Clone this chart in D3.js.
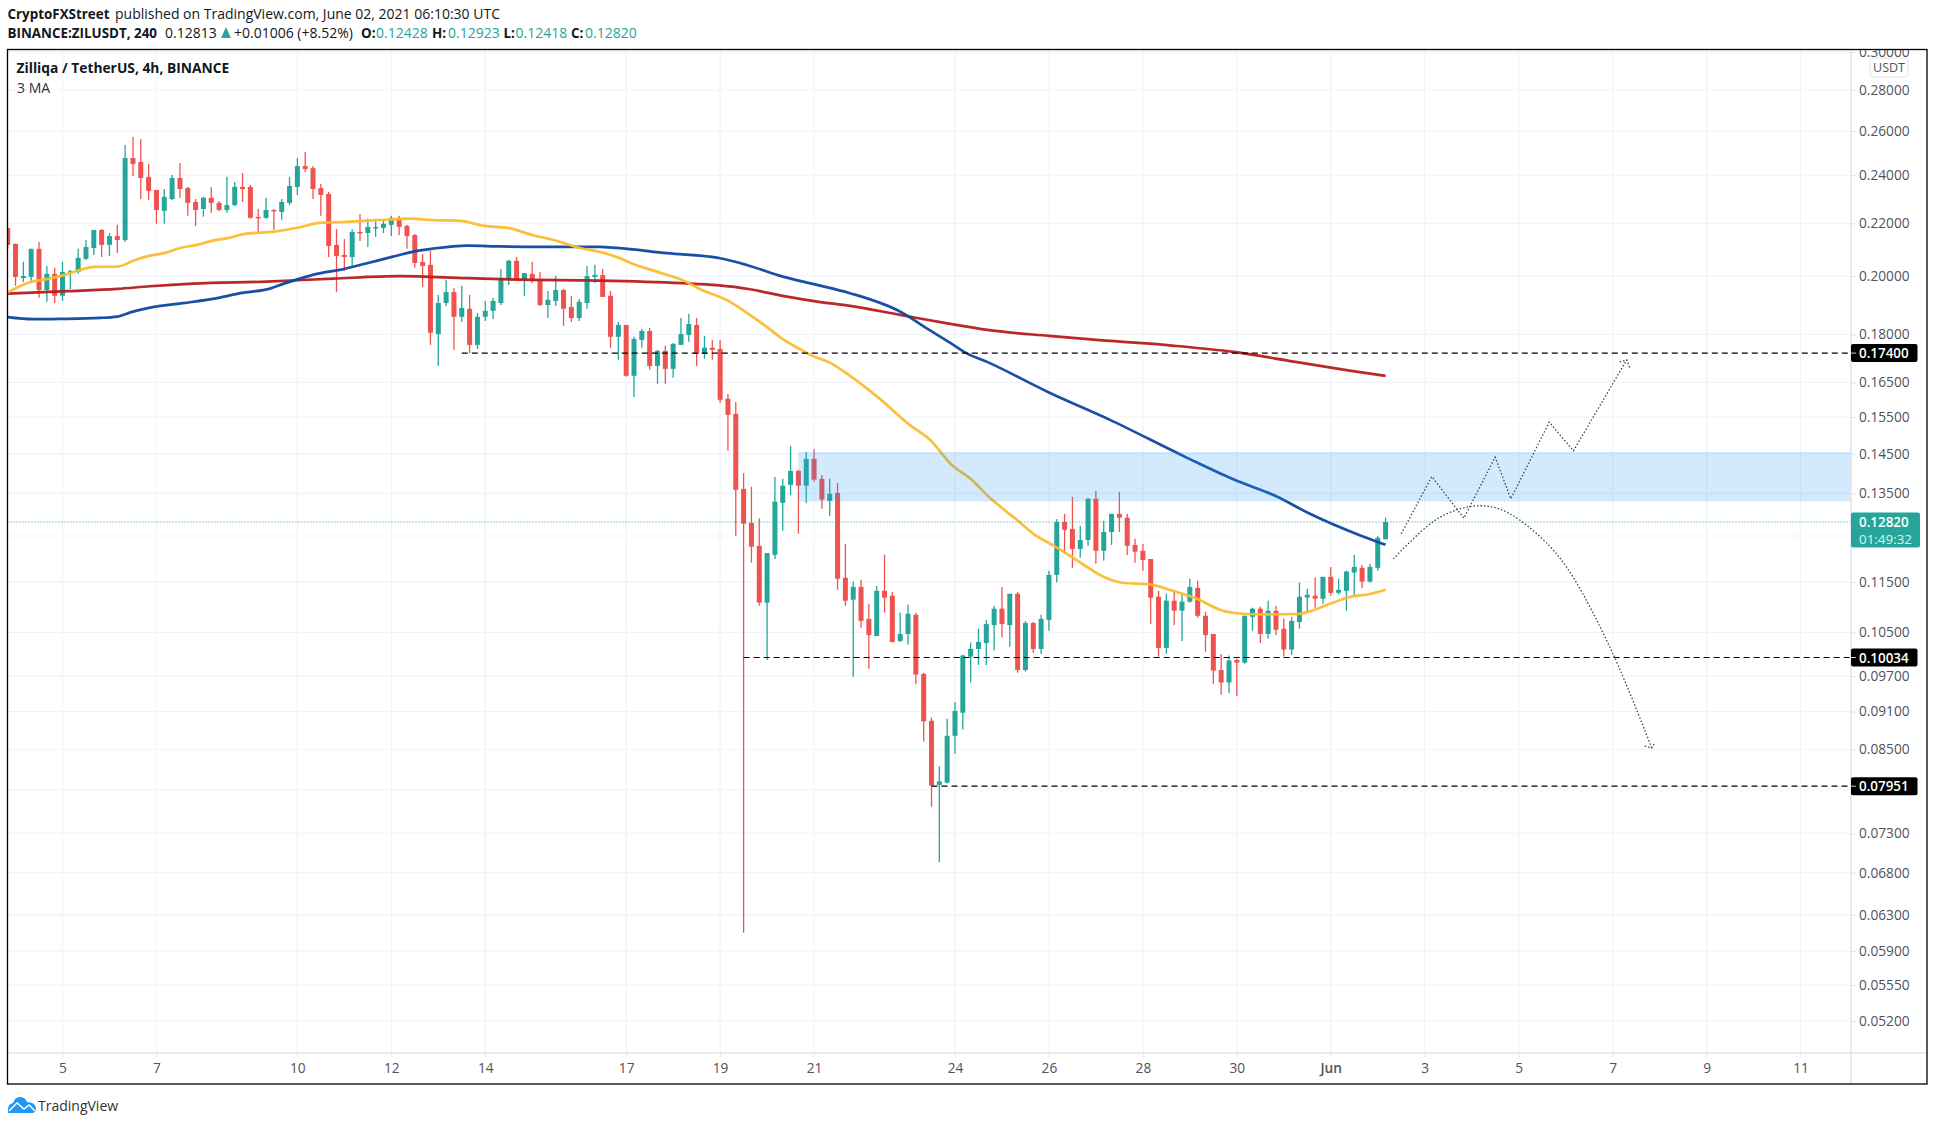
<!DOCTYPE html>
<html>
<head>
<meta charset="utf-8">
<script src="https://cdnjs.cloudflare.com/ajax/libs/d3/7.8.5/d3.min.js" charset="utf-8"></script>
<style>
body { margin: 0; background: #fff; }
svg { display: block; }
text { font-family: "Open Sans", sans-serif; }
.axis-label text { font-size: 13.7px; fill: #50535e; }
</style>
</head>
<body>
<svg id="chart" width="1935" height="1126"></svg>
<script>
// 4h candles from May 3 20:00 UTC, [open, high, low, close]
var candles = [
[.2182,.2182,.2101,.2116],[.2120,.2120,.1965,.1997],[.1993,.2052,.1979,.2000],[.1997,.2101,.1979,.2101],
[.2101,.2127,.1923,.1950],[.1950,.2037,.1909,.2008],[.2008,.2030,.1905,.1930],[.1930,.2052,.1912,.2015],
[.2011,.2022,.1954,.2018],[.2015,.2101,.2008,.2067],[.2063,.2135,.2059,.2108],[.2104,.2174,.2078,.2174],
[.2174,.2178,.2070,.2116],[.2116,.2162,.2074,.2150],[.2150,.2194,.2085,.2135],[.2135,.2535,.2127,.2476],
[.2476,.2572,.2397,.2449],[.2458,.2563,.2299,.2388],[.2393,.2449,.2295,.2333],[.2337,.2337,.2198,.2254],
[.2250,.2341,.2198,.2308],[.2299,.2401,.2295,.2388],[.2388,.2454,.2304,.2341],[.2345,.2350,.2230,.2283],
[.2287,.2299,.2190,.2254],[.2258,.2308,.2226,.2304],[.2304,.2350,.2242,.2283],[.2283,.2291,.2250,.2254],
[.2254,.2393,.2242,.2274],[.2274,.2371,.2270,.2350],[.2350,.2410,.2287,.2341],[.2350,.2358,.2218,.2222],
[.2226,.2258,.2166,.2222],[.2222,.2304,.2218,.2254],[.2254,.2258,.2174,.2250],[.2246,.2299,.2214,.2287],
[.2283,.2393,.2274,.2354],[.2350,.2476,.2316,.2440],[.2440,.2503,.2414,.2427],[.2431,.2440,.2299,.2341],
[.2345,.2362,.2230,.2316],[.2320,.2329,.2070,.2112],[.2116,.2178,.1943,.2074],[.2078,.2139,.2019,.2070],
[.2070,.2178,.2037,.2166],[.2166,.2238,.2131,.2162],[.2162,.2218,.2108,.2186],[.2182,.2218,.2147,.2186],
[.2182,.2214,.2162,.2198],[.2194,.2230,.2150,.2222],[.2222,.2230,.2154,.2186],[.2190,.2194,.2101,.2150],
[.2154,.2158,.2030,.2048],[.2052,.2081,.1961,.2037],[.2041,.2093,.1766,.1805],[.1801,.1933,.1700,.1905],
[.1905,.1986,.1895,.1943],[.1943,.1957,.1750,.1858],[.1858,.1965,.1841,.1888],[.1885,.1933,.1740,.1766],
[.1766,.1871,.1753,.1858],[.1858,.1912,.1844,.1878],[.1878,.1923,.1851,.1912],[.1905,.2026,.1898,.1993],
[.1986,.2059,.1968,.2056],[.2056,.2070,.1983,.1986],[.1986,.2011,.1930,.2011],[.2008,.2052,.1975,.1983],
[.1986,.2015,.1895,.1898],[.1898,.1947,.1854,.1916],[.1912,.2000,.1895,.1950],[.1950,.1954,.1828,.1885],
[.1891,.1930,.1841,.1854],[.1854,.1919,.1844,.1909],[.1905,.2037,.1885,.2000],[.1997,.2041,.1975,.2004],
[.2004,.2026,.1926,.1926],[.1930,.1947,.1757,.1792],[.1792,.1841,.1719,.1831],[.1831,.1831,.1667,.1670],
[.1670,.1792,.1607,.1785],[.1782,.1818,.1757,.1811],[.1811,.1821,.1688,.1700],[.1700,.1750,.1646,.1747],
[.1747,.1763,.1646,.1691],[.1691,.1772,.1664,.1769],[.1766,.1854,.1766,.1801],[.1798,.1868,.1776,.1834],
[.1831,.1854,.1700,.1737],[.1737,.1795,.1722,.1757],[.1757,.1782,.1719,.1750],[.1753,.1782,.1590,.1599],
[.1602,.1616,.1458,.1556],[.1559,.1593,.1250,.1359],[.1361,.1401,.0610,.1278],[.1280,.1366,.1191,.1226],
[.1228,.1290,.1102,.1108],[.1108,.1212,.0999,.1212],[.1208,.1391,.1199,.1330],[.1327,.1386,.1262,.1369],
[.1371,.1471,.1346,.1406],[.1406,.1409,.1255,.1369],[.1369,.1455,.1327,.1437],[.1437,.1463,.1379,.1384],
[.1386,.1396,.1313,.1335],[.1332,.1386,.1296,.1349],[.1351,.1376,.1134,.1157],[.1159,.1232,.1102,.1112],
[.1114,.1151,.0969,.1140],[.1140,.1155,.1059,.1072],[.1076,.1106,.0983,.1045],[.1043,.1142,.1043,.1132],
[.1132,.1208,.1088,.1118],[.1122,.1130,.1031,.1032],[.1034,.1088,.1032,.1047],[.1047,.1104,.1027,.1086],
[.1084,.1088,.0956,.0973],[.0974,.0976,.0862,.0894],[.0895,.0900,.0766,.0796],[.0797,.0824,.0693,.0802],
[.0800,.0898,.0799,.0871],[.0871,.0926,.0843,.0911],[.0908,.1008,.0881,.1007],[.1005,.1031,.0959,.1019],
[.1019,.1057,.0990,.1032],[.1030,.1074,.0990,.1066],[.1064,.1102,.1016,.1096],[.1096,.1140,.1041,.1066],
[.1064,.1126,.1023,.1126],[.1126,.1130,.0976,.0981],[.0981,.1072,.0978,.1068],[.1068,.1070,.1012,.1019],
[.1019,.1084,.1010,.1076],[.1074,.1174,.1053,.1165],[.1165,.1289,.1149,.1282],[.1282,.1301,.1217,.1264],
[.1266,.1342,.1180,.1221],[.1221,.1273,.1202,.1241],[.1241,.1339,.1228,.1337],[.1337,.1356,.1189,.1217],
[.1217,.1285,.1195,.1259],[.1259,.1301,.1230,.1301],[.1301,.1354,.1259,.1292],[.1292,.1301,.1208,.1228],
[.1230,.1244,.1191,.1215],[.1217,.1232,.1174,.1197],[.1199,.1199,.1066,.1118],[.1120,.1132,.1005,.1021],
[.1021,.1126,.1010,.1112],[.1112,.1130,.1064,.1092],[.1092,.1126,.1034,.1110],[.1110,.1157,.1108,.1140],
[.1138,.1153,.1078,.1082],[.1082,.1090,.1014,.1045],[.1047,.1047,.0957,.0980],[.0981,.1010,.0938,.0959],
[.0959,.1007,.0941,.0998],[.0999,.1001,.0936,.0994],[.0994,.1082,.0992,.1082],[.1080,.1098,.1053,.1096],
[.1096,.1100,.1030,.1047],[.1047,.1112,.1038,.1092],[.1092,.1102,.1045,.1055],[.1057,.1076,.1005,.1018],
[.1018,.1080,.1008,.1072],[.1070,.1149,.1057,.1120],[.1118,.1136,.1090,.1124],[.1122,.1159,.1098,.1116],
[.1116,.1161,.1106,.1161],[.1161,.1182,.1122,.1128],[.1128,.1157,.1124,.1134],[.1132,.1174,.1092,.1172],
[.1170,.1208,.1122,.1182],[.1180,.1186,.1138,.1151],[.1151,.1189,.1149,.1182],[.1180,.1250,.1174,.1246],
[.12428,.12923,.12418,.12820]
];

// moving averages, [bar index, price]
var maOrange = [[0,.19418],[2.8,.19779],[5.1,.19897],[7.3,.20042],[9.2,.20223],[11.1,.20333],[14,.20345],[16.3,.20592],
[18.2,.20751],[20.1,.20855],[22,.21043],[24.2,.21159],[26.2,.21323],[28.4,.2144],[30.3,.21584],[34.1,.21674],
[37.3,.21847],[40.1,.22029],[42.4,.22045],[45.9,.22108],[49.4,.22165],[51.8,.2219],[53.9,.22136],[57.8,.22096],
[60.9,.21898],[63.9,.21819],[67.1,.21533],[70.2,.21312],[72.7,.21071],[76,.20866],[78,.20678],[79.9,.20444],
[82.9,.20161],[86.8,.19779],[88.4,.1954],[92,.19132],[94.8,.18644],[97,.18234],[99,.17843],[101.2,.17523],
[102.8,.17312],[105,.17103],[107.6,.16698],[111.4,.16017],[115.2,.15283],[117.8,.14873],[120.7,.1419],[122.9,.13879],
[125.5,.13386],[128.9,.12871],[131.5,.12489],[133.5,.12296],[137,.11915],[139.9,.11617],[142.4,.11486],[145.9,.11451],
[148.4,.11341],[151.9,.11158],[155.1,.10925],[157.8,.1086],[160.3,.10847],[164.7,.10855],[166.7,.10925],[168.9,.11058],
[171.4,.11193],[174,.11254],[176,.11341]];

var maBlue = [[0,.18567],[3.2,.185],[6.7,.1851],[11.8,.18543],[14,.18587],[16,.18756],[18.2,.18892],[22.4,.19043],
[27.1,.19236],[29.7,.1939],[33.5,.19551],[35.2,.19719],[37.3,.19908],[39.5,.20078],[42.4,.20223],[45.9,.2047],
[49.2,.20714],[52.3,.2093],[54.3,.21018],[58.7,.21132],[62.9,.211],[68.9,.21083],[75.6,.21083],[77.8,.21044],
[84.2,.20844],[91,.20655],[94.4,.20406],[99,.1998],[103.4,.19683],[107.6,.19389],[114.3,.18712],[117.1,.18245],
[120.4,.17725],[122.4,.17407],[125.1,.17125],[133,.16204],[140.8,.15421],[150.4,.14423],[156.7,.13836],[162.1,.13425],
[166.2,.13023],[173.1,.12489],[176,.12302]];

var maRed = [[0,.19376],[7.6,.1946],[14,.19541],[18.2,.19636],[23.7,.19729],[33.1,.19801],[41.6,.19908],[50.1,.19995],
[58.7,.19923],[67.1,.19861],[75.6,.19836],[86.2,.19743],[90.6,.19672],[94.8,.1953],[99,.19296],[103.4,.19097],
[107.6,.1895],[114,.18644],[120.4,.18343],[125.1,.18145],[133,.1795],[140.8,.17788],[148.7,.17638],[156.6,.17438],
[164.5,.17125],[171.4,.16858],[176,.16698]];

// hand drawn projections
var pathUp = [[178,.1255],[181.9,.13917],[186,.1291],[190,.14415],[192,.13369],[196.9,.15357],[200,.14581],[206.8,.17187]];
var arrowUp = [[205.9,.17125],[206.8,.17187],[207.2,.16948]];
var pathDown = [[177,.11995],[182.1,.12832],[185.5,.1313],[188.4,.13202],[190.6,.13123],[193.1,.12871],[197,.12265],[199.9,.11617],[205,.10116],[210,.08519]];
var arrowDown = [[209.1,.0855],[210,.08519],[210.4,.086]];

var levels = [{price:.174, from:58, label:'0.17400'},{price:.10034, from:94, label:'0.10034'},{price:.07951, from:118, label:'0.07951'}];
var priceTicks = [.30,.28,.26,.24,.22,.20,.18,.165,.155,.145,.135,.115,.105,.097,.091,.085,.073,.068,.063,.059,.0555,.052];
var gridOnly = [.125,.079];
var dateTicks = [[2021,4,5],[2021,4,7],[2021,4,10],[2021,4,12],[2021,4,14],[2021,4,17],[2021,4,19],[2021,4,21],[2021,4,24],
[2021,4,26],[2021,4,28],[2021,4,30],[2021,5,1],[2021,5,3],[2021,5,5],[2021,5,7],[2021,5,9],[2021,5,11]].map(function(d){ return new Date(Date.UTC(d[0],d[1],d[2])); });

var L = 7.5, T = 49.5, R = 1927, B = 1084, plotR = 1851, plotB = 1053;
var GREEN = '#26a69a', RED = '#ef5350', GRID = '#f0f3fa', AXIS = '#e0e3eb';

var t0 = Date.UTC(2021,4,3,20);
function barDate(k) { return new Date(t0 + k*4*3600*1000); }

var x = d3.scaleUtc().domain([new Date(Date.UTC(2021,4,5)), new Date(Date.UTC(2021,5,11))]).range([62.5,1800.5]);
var y = d3.scaleLog().domain([.28,.052]).range([90,1021]);
function bx(k) { return x(barDate(k)); }

var svg = d3.select('#chart');
var defs = svg.append('defs');
defs.append('clipPath').attr('id','plot').append('rect').attr('x',L).attr('y',T).attr('width',plotR-L).attr('height',plotB-T);
defs.append('clipPath').attr('id','pax').append('rect').attr('x',plotR).attr('y',T).attr('width',R-plotR).attr('height',B-T);

// grid
var grid = svg.append('g').attr('clip-path','url(#plot)');
grid.selectAll('.h').data(priceTicks.concat(gridOnly)).enter().append('line')
  .attr('x1',L).attr('x2',plotR).attr('y1',function(d){return y(d);}).attr('y2',function(d){return y(d);})
  .attr('stroke',GRID).attr('stroke-width',1.2);
grid.selectAll('.v').data(dateTicks).enter().append('line')
  .attr('x1',function(d){return x(d);}).attr('x2',function(d){return x(d);}).attr('y1',T).attr('y2',plotB)
  .attr('stroke',GRID).attr('stroke-width',1.2);

var plot = svg.append('g').attr('clip-path','url(#plot)');

// candles
var bars = plot.selectAll('g.bar').data(candles).enter().append('g').attr('class','bar');
function col(d) { return d[3] >= d[0] ? GREEN : RED; }
bars.append('line')
  .attr('x1',function(d,i){return bx(i);}).attr('x2',function(d,i){return bx(i);})
  .attr('y1',function(d){return y(d[1]);}).attr('y2',function(d){return y(d[2]);})
  .attr('stroke',col).attr('stroke-width',1.3);
bars.append('rect')
  .attr('x',function(d,i){return bx(i)-2.5;}).attr('width',5)
  .attr('y',function(d){return y(Math.max(d[0],d[3]));})
  .attr('height',function(d){return Math.max(1.5,Math.abs(y(d[0])-y(d[3])));})
  .attr('fill',col);

// moving averages
var maLine = d3.line().x(function(d){return bx(d[0]);}).y(function(d){return y(d[1]);}).curve(d3.curveMonotoneX);
[[maRed,'#b71c1c'],[maBlue,'#0d47a1'],[maOrange,'#fbbc2e']].forEach(function(m){
  plot.append('path').attr('d',maLine(m[0])).attr('fill','none').attr('stroke',m[1]).attr('stroke-width',2.7).attr('stroke-opacity',.95);
});

// resistance box
plot.append('rect').attr('x',bx(101)).attr('width',plotR-bx(101))
  .attr('y',y(.1455)).attr('height',y(.13305)-y(.1455))
  .attr('fill','#2196f3').attr('fill-opacity',.2);

// last price line
plot.append('line').attr('x1',L).attr('x2',plotR).attr('y1',y(.1282)).attr('y2',y(.1282))
  .attr('stroke',GREEN).attr('stroke-width',1).attr('stroke-dasharray','1 2');

// levels
plot.selectAll('.level').data(levels).enter().append('line')
  .attr('x1',function(d){return bx(d.from);}).attr('x2',plotR)
  .attr('y1',function(d){return y(d.price);}).attr('y2',function(d){return y(d.price);})
  .attr('stroke','#000').attr('stroke-width',1.2).attr('stroke-dasharray','6 4');

// projections
var straight = d3.line().x(function(d){return bx(d[0]);}).y(function(d){return y(d[1]);});
var curved = d3.line().x(function(d){return bx(d[0]);}).y(function(d){return y(d[1]);}).curve(d3.curveCatmullRom);
[[pathUp,straight],[arrowUp,straight],[pathDown,curved],[arrowDown,straight]].forEach(function(p){
  plot.append('path').attr('d',p[1](p[0])).attr('fill','none').attr('stroke','#444').attr('stroke-width',1.3).attr('stroke-dasharray','1.5 2');
});

// axes
var xAxis = d3.axisBottom(x).tickValues(dateTicks).tickSize(4).tickPadding(6).tickFormat(function(d){
  return d.getUTCDate() == 1 ? 'Jun' : d.getUTCDate();
});
var gx = svg.append('g').attr('class','axis-label').attr('transform','translate(0,'+plotB+')').call(xAxis);
gx.select('.domain').remove();
gx.selectAll('line').attr('stroke',AXIS);
gx.selectAll('text').attr('font-weight',function(d){return d.getUTCDate()==1 ? 600 : 400;});
svg.append('line').attr('x1',L).attr('x2',R).attr('y1',plotB).attr('y2',plotB).attr('stroke',AXIS).attr('stroke-width',1.5);
svg.append('line').attr('x1',plotR).attr('x2',plotR).attr('y1',T).attr('y2',B).attr('stroke',AXIS).attr('stroke-width',1.5);

var yAxis = d3.axisRight(y).tickValues(priceTicks).tickSize(5).tickPadding(3).tickFormat(d3.format('.5f'));
var gy = svg.append('g').attr('clip-path','url(#pax)').append('g').attr('class','axis-label').attr('transform','translate('+plotR+',0)').call(yAxis);
gy.select('.domain').remove();
gy.selectAll('line').attr('stroke',AXIS);

// USDT tag
svg.append('rect').attr('x',1870).attr('y',58).attr('width',38).attr('height',19).attr('rx',3)
  .attr('fill','#fff').attr('stroke',AXIS);
svg.append('text').attr('x',1889).attr('y',67.5).attr('text-anchor','middle').attr('dominant-baseline','central')
  .attr('font-size',12.5).attr('fill','#50535e').text('USDT');

// price tags
levels.forEach(function(l){
  var yy = y(l.price);
  svg.append('rect').attr('x',plotR).attr('y',yy-9).attr('width',66.5).attr('height',18).attr('rx',2).attr('fill','#000');
  svg.append('line').attr('x1',plotR).attr('x2',plotR+5).attr('y1',yy).attr('y2',yy).attr('stroke','#ccc');
  svg.append('text').attr('x',plotR+8).attr('y',yy).attr('dominant-baseline','central')
    .attr('font-size',13.4).attr('font-weight',600).attr('fill','#fff').text(l.label);
});
svg.append('rect').attr('x',plotR).attr('y',512.5).attr('width',69).attr('height',35).attr('rx',2).attr('fill',GREEN);
svg.append('text').attr('x',plotR+8).attr('y',y(.1282)).attr('dominant-baseline','central')
  .attr('font-size',13.4).attr('font-weight',600).attr('fill','#fff').text('0.12820');
svg.append('text').attr('x',plotR+8).attr('y',539).attr('dominant-baseline','central')
  .attr('font-size',13.4).attr('fill','#dff3f1').text('01:49:32');

// frame
svg.append('rect').attr('x',L).attr('y',T).attr('width',R-L).attr('height',B-T)
  .attr('fill','none').attr('stroke','#000').attr('stroke-width',1.3);

// header
var ink = '#131722';
svg.append('text').attr('x',7.5).attr('y',19).attr('font-size',13.4).attr('font-weight',700).attr('fill',ink).text('CryptoFXStreet');
svg.append('text').attr('x',115).attr('y',19).attr('font-size',14).attr('fill',ink).text('published on TradingView.com, June 02, 2021 06:10:30 UTC');

function head(xp, txt, bold, color) {
  svg.append('text').attr('x',xp).attr('y',38).attr('font-size',bold ? 13.4 : 14)
    .attr('font-weight',bold ? 700 : 400).attr('fill',color || ink).text(txt);
}
head(7.5,'BINANCE:ZILUSDT, 240',true);
head(165,'0.12813');
svg.append('path').attr('d','M221,38L226,27L231,38Z').attr('fill',GREEN);
head(234,'+0.01006 (+8.52%)');
head(361,'O:',true); head(376,'0.12428',false,GREEN);
head(432,'H:',true); head(448,'0.12923',false,GREEN);
head(503.5,'L:',true); head(515.5,'0.12418',false,GREEN);
head(571,'C:',true); head(585,'0.12820',false,GREEN);

// legend
svg.append('text').attr('x',16.5).attr('y',73).attr('font-size',13.8).attr('font-weight',700).attr('fill',ink).text('Zilliqa / TetherUS, 4h, BINANCE');
svg.append('text').attr('x',17).attr('y',92.5).attr('font-size',14).attr('fill','#333').text('3 MA');

// TradingView logo
var logo = svg.append('g');
logo.append('path').attr('d','M8,1113Q7,1104 13,1103Q15,1097 20,1097Q25,1097 27,1102Q35,1102 36,1108Q36,1113 32,1113Z').attr('fill','#2196f3');
logo.append('path').attr('d','M9,1111L17,1103L24,1109L29,1105L35,1111').attr('fill','none').attr('stroke','#fff').attr('stroke-width',1.5);
svg.append('text').attr('x',38).attr('y',1111).attr('font-size',14).attr('fill','#333').text('TradingView');
</script>
</body>
</html>
